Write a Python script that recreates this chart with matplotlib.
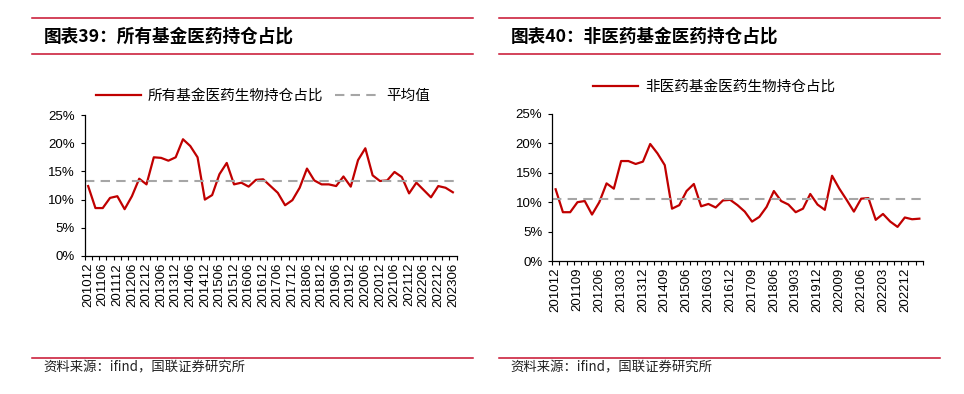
import matplotlib
matplotlib.use('Agg')
import matplotlib.pyplot as plt
from matplotlib.lines import Line2D
import numpy as np

plt.rcParams['font.family'] = ['Liberation Sans', 'Noto Sans CJK SC', 'DejaVu Sans']
CJK = ['Noto Sans CJK SC', 'DejaVu Sans']

# quarterly periods 201012 .. 202306
periods = [f'{y}{m:02d}' for y in range(2010, 2024) for m in (3, 6, 9, 12)]
periods = periods[periods.index('201012'):periods.index('202306') + 1]

all_funds = [12.4, 8.5, 8.5, 10.3, 10.6, 8.3, 10.6, 13.7, 12.7, 17.5,
             17.4, 16.9, 17.5, 20.7, 19.5, 17.5, 10.0, 10.8, 14.5, 16.5,
             12.7, 13.0, 12.3, 13.5, 13.6, 12.4, 11.2, 9.0, 9.9, 12.1,
             15.5, 13.4, 12.7, 12.7, 12.4, 14.1, 12.3, 17.0, 19.1, 14.3,
             13.3, 13.4, 14.9, 14.0, 11.1, 13.0, 11.7, 10.4, 12.4, 12.1,
             11.3]
all_avg = 13.3

non_med = [12.2, 8.3, 8.3, 10.0, 10.2, 7.9, 10.0, 13.2, 12.3, 17.0,
           17.0, 16.5, 16.9, 19.9, 18.3, 16.3, 8.9, 9.5, 11.9, 13.1,
           9.3, 9.7, 9.1, 10.3, 10.4, 9.5, 8.4, 6.7, 7.5, 9.2,
           11.9, 10.2, 9.6, 8.3, 8.9, 11.4, 9.6, 8.7, 14.5, 12.3,
           10.4, 8.4, 10.6, 10.7, 7.0, 8.0, 6.7, 5.8, 7.4, 7.1,
           7.2]
non_avg = 10.6

RED = '#C00000'
RULE = '#C8102E'
GRAY = '#A6A6A6'

W, H = 964, 394
fig = plt.figure(figsize=(W / 100, H / 100), dpi=100)


def fx(px):
    return px / W


def fy(py):
    return 1 - py / H


def panel(x0, x1, title, source):
    for y in (18, 54, 358):
        fig.add_artist(Line2D([fx(x0), fx(x1)], [fy(y), fy(y)], color=RULE, lw=1.1))
    fig.text(fx(x0 + 12), fy(37), title, family=CJK, weight='bold', fontsize=12.7,
             va='center', ha='left')
    fig.text(fx(x0 + 11), fy(367), source, family=CJK, fontsize=9.6,
             va='center', ha='left', color='#222222')


def chart(rect, values, avg, label_step, legend_labels, legend_anchor, show_avg):
    ax = fig.add_axes(rect)
    x = np.arange(len(values))
    ln, = ax.plot(x, values, color=RED, lw=1.6)
    av, = ax.plot([-0.5, len(values) - 0.5], [avg, avg], color=GRAY, lw=1.5,
                  dashes=(4.5, 3))
    handles = [ln, av] if show_avg else [ln]
    ax.set_xlim(-0.5, len(values) - 0.5)
    ax.set_ylim(0, 25)
    ax.set_yticks(range(0, 26, 5))
    ax.set_yticklabels([f'{v}%' for v in range(0, 26, 5)], fontsize=9.5)
    ax.set_xticks(x[::label_step])
    ax.set_xticklabels([periods[i] for i in x[::label_step]], rotation=90, fontsize=9.5)
    ax.set_xticks(np.arange(-0.5, len(values)), minor=True)
    ax.tick_params(axis='x', which='major', length=0, pad=5)
    ax.tick_params(axis='x', which='minor', length=3, width=0.8, direction='out')
    ax.tick_params(axis='y', length=3, width=0.8, pad=4)
    for s in ('top', 'right'):
        ax.spines[s].set_visible(False)
    for s in ('left', 'bottom'):
        ax.spines[s].set_linewidth(0.9)
    ax.legend(handles, legend_labels, ncol=len(handles), frameon=False,
              loc='center left', bbox_to_anchor=legend_anchor,
              bbox_transform=fig.transFigure, handlelength=3.1,
              handletextpad=0.45, columnspacing=0.8,
              prop={'family': CJK, 'size': 10.5}, borderaxespad=0,
              borderpad=0)
    return ax


panel(32, 473, '图表39：所有基金医药持仓占比', '资料来源：ifind，国联证券研究所')
panel(499, 940, '图表40：非医药基金医药持仓占比', '资料来源：ifind，国联证券研究所')

chart([fx(84.5), fy(256), fx(456.5 - 84.5), fy(115) - fy(256)], all_funds, all_avg, 2,
      ['所有基金医药生物持仓占比', '平均值'], (fx(96), fy(96)), True)
chart([fx(552), fy(261), fx(923 - 552), fy(114) - fy(261)], non_med, non_avg, 3,
      ['非医药基金医药生物持仓占比'], (fx(593), fy(87)), False)

fig.savefig('out.png', dpi=100)
